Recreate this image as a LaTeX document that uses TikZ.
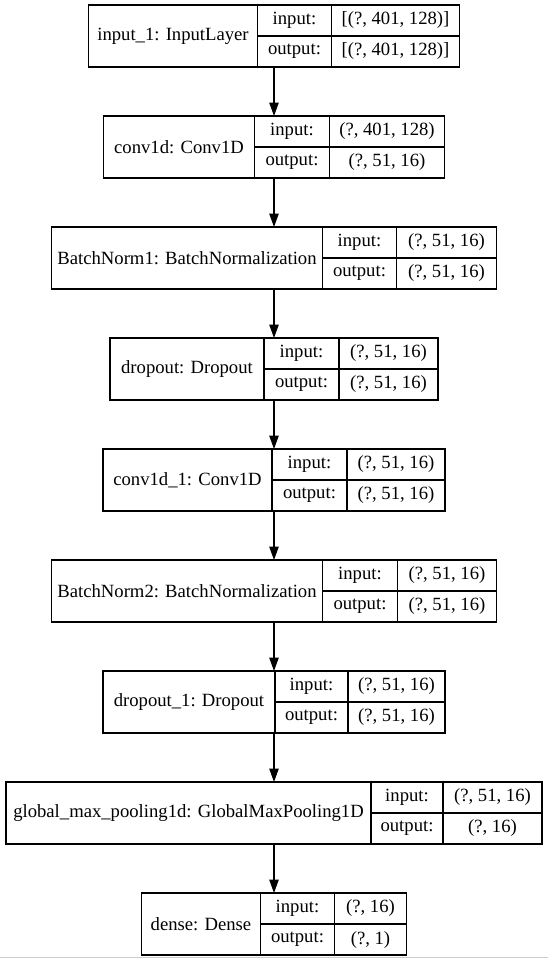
\documentclass[tikz,border=0pt]{standalone}
\usepackage{fontspec}
\setmainfont{Liberation Serif}
\usetikzlibrary{arrows.meta, positioning}

\begin{document}
\begin{tikzpicture}[x=0.75pt, y=-0.75pt, >={Triangle[length=10pt, width=7pt]},
  font=\fontsize{14pt}{17pt}\selectfont,
  box/.style={draw, line width=0.9pt, inner sep=0pt, outer sep=0pt, minimum height=62*0.75pt},
  cell/.style={draw, line width=0.9pt, inner sep=0pt, outer sep=0pt, anchor=north west},
  flow/.style={->, line width=0.9pt}]
  \useasboundingbox (0,0) rectangle (548,959);
  % one layer: outer box, name cell, input/output cells
  \foreach \lname/\ltop/\lw/\kw/\vw/\ltext/\ishp/\oshp in {
      inp/5/169/74/128/{input\_1: InputLayer}/{[(?, 401, 128)]}/{[(?, 401, 128)]},
      conv/116/151/75/115/{conv1d: Conv1D}/{(?, 401, 128)}/{(?, 51, 16)},
      bnA/227/271/74/100/{BatchNorm1: BatchNormalization}/{(?, 51, 16)}/{(?, 51, 16)},
      drop/338/154/75/99/{dropout: Dropout}/{(?, 51, 16)}/{(?, 51, 16)},
      convB/449/169/75/98/{conv1d\_1: Conv1D}/{(?, 51, 16)}/{(?, 51, 16)},
      bnB/560/271/75/99/{BatchNorm2: BatchNormalization}/{(?, 51, 16)}/{(?, 51, 16)},
      dropB/671/172/73/97/{dropout\_1: Dropout}/{(?, 51, 16)}/{(?, 51, 16)},
      gmp/782/365/72/99/{global\_max\_pooling1d: GlobalMaxPooling1D}/{(?, 51, 16)}/{(?, 16)},
      dense/893/119/74/72/{dense: Dense}/{(?, 16)}/{(?, 1)}} {
    \node[box, minimum width=(\lw+\kw+\vw)*0.75pt, anchor=north] (\lname) at (274,\ltop) {};
    \node[cell, minimum width=\lw*0.75pt, minimum height=62*0.75pt] (\lname-lab) at (\lname.north west) {\ltext};
    \node[cell, minimum width=\kw*0.75pt, minimum height=31*0.75pt] (\lname-ik) at (\lname-lab.north east) {input:};
    \node[cell, minimum width=\kw*0.75pt, minimum height=31*0.75pt] (\lname-ok) at (\lname-ik.south west) {output:};
    \node[cell, minimum width=\vw*0.75pt, minimum height=31*0.75pt] (\lname-iv) at (\lname-ik.north east) {\ishp};
    \node[cell, minimum width=\vw*0.75pt, minimum height=31*0.75pt] (\lname-ov) at (\lname-iv.south west) {\oshp};
  }
  \foreach \a/\b in {inp/conv, conv/bnA, bnA/drop, drop/convB, convB/bnB, bnB/dropB, dropB/gmp, gmp/dense}
    \draw[flow] (\a.south) -- (\b.north);
  \draw[gray!40, line width=1.2pt] (0,957.5) -- (548,957.5);
\end{tikzpicture}
\end{document}
